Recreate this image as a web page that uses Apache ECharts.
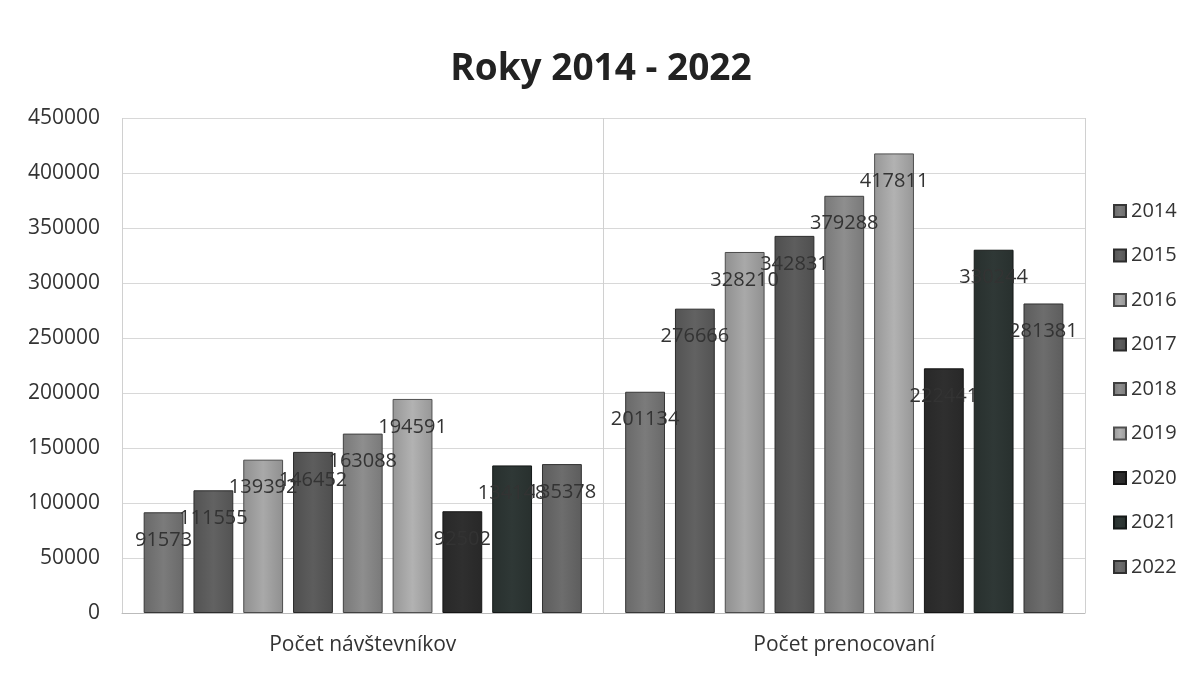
<!DOCTYPE html>
<html>
<head>
<meta charset="utf-8">
<script src="https://cdn.jsdelivr.net/npm/echarts@6/dist/echarts.min.js"></script>
<style>html,body{margin:0;padding:0;background:#fff}#c{width:1202px;height:673px}</style>
</head>
<body>
<div id="c"></div>
<script>
const categories = ['Počet návštevníkov', 'Počet prenocovaní'];
const years = ['2014','2015','2016','2017','2018','2019','2020','2021','2022'];
const v2014 = [91573, 201134];
const v2015 = [111555, 276666];
const v2016 = [139392, 328210];
const v2017 = [146452, 342831];
const v2018 = [163088, 379288];
const v2019 = [194591, 417811];
const v2020 = [92502, 222441];
const v2021 = [134148, 330244];
const v2022 = [135378, 281381];
const yTicks = [0, 50000, 100000, 150000, 200000, 250000, 300000, 350000, 400000, 450000];

const values = [v2014, v2015, v2016, v2017, v2018, v2019, v2020, v2021, v2022];
const colors = ['#7b7b7b', '#626262', '#a9a9a9', '#5d5d5d', '#8e8e8e', '#b2b2b2', '#2f2f2f', '#2f3836', '#6d6d6d'];

function shade(hex, f) {
  const n = parseInt(hex.slice(1), 16);
  let r = (n >> 16) & 255, g = (n >> 8) & 255, b = n & 255;
  r = Math.max(0, Math.min(255, Math.round(r * f)));
  g = Math.max(0, Math.min(255, Math.round(g * f)));
  b = Math.max(0, Math.min(255, Math.round(b * f)));
  return 'rgb(' + r + ',' + g + ',' + b + ')';
}

const series = years.map((y, i) => ({
  name: y,
  type: 'bar',
  data: values[i],
  barGap: '25%',
  barCategoryGap: '9%',
  itemStyle: {
    color: new echarts.graphic.LinearGradient(0, 0, 1, 0, [
      { offset: 0, color: shade(colors[i], 0.85) },
      { offset: 0.5, color: colors[i] },
      { offset: 1, color: shade(colors[i], 0.85) }
    ]),
    borderColor: shade(colors[i], 0.45),
    borderWidth: 1
  },
  label: {
    show: true,
    position: 'insideTop',
    distance: 18,
    color: '#333',
    fontSize: 20,
    fontFamily: 'Open Sans',
    formatter: p => String(p.value)
  }
}));

const chart = echarts.init(document.getElementById('c'), null, { renderer: 'canvas' });
chart.setOption({
  backgroundColor: '#fff',
  animation: false,
  color: colors,
  title: {
    text: 'Roky 2014 - 2022',
    left: 'center',
    top: 46,
    textStyle: { fontFamily: 'Open Sans', fontWeight: 'bold', fontSize: 37, color: '#222' }
  },
  legend: {
    orient: 'vertical',
    left: 1108,
    top: 196,
    itemWidth: 12,
    itemHeight: 12,
    itemGap: 24.5,
    icon: 'rect',
    textStyle: { fontFamily: 'Open Sans', fontSize: 20, color: '#333', lineHeight: 20 },
    data: years
  },
  grid: { left: 122, right: 117, top: 118, bottom: 60, containLabel: false },
  xAxis: {
    type: 'category',
    data: categories,
    axisLine: { show: true, lineStyle: { color: '#bbb' } },
    axisTick: { show: false },
    splitLine: { show: true, lineStyle: { color: '#d0d0d0' } },
    axisLabel: { fontFamily: 'Open Sans', fontSize: 21, color: '#333', margin: 22 }
  },
  yAxis: {
    type: 'value',
    min: yTicks[0],
    max: yTicks[yTicks.length - 1],
    interval: 50000,
    axisLine: { show: false },
    axisTick: { show: false },
    splitLine: { show: true, lineStyle: { color: '#d8d8d8' } },
    axisLabel: { fontFamily: 'Open Sans', fontSize: 21, color: '#333', margin: 22, formatter: v => String(v) }
  },
  series: series
});
</script>
</body>
</html>
